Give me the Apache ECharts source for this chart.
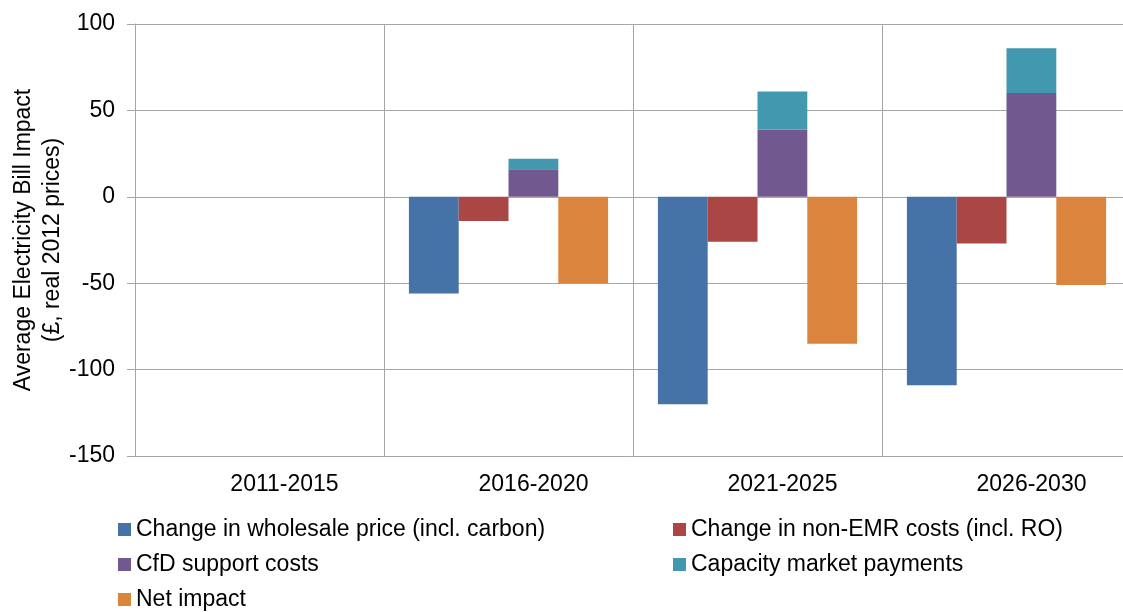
<!DOCTYPE html>
<html>
<head>
<meta charset="utf-8">
<script src="https://cdn.jsdelivr.net/npm/echarts@6/dist/echarts.min.js"></script>
<style>
html,body{margin:0;padding:0;background:#fff;}
#chart{width:1123px;height:612px;}
</style>
</head>
<body>
<div id="chart"></div>
<script>
const categories = ['2011-2015', '2016-2020', '2021-2025', '2026-2030'];
const wholesale = [null, -56, -120, -109];
const nonEMR = [null, -14, -26, -27];
const cfdSupport = [null, 16, 39, 60];
const capacity = [null, 6, 22, 26];
const netImpact = [null, -50, -85, -51];
const yTicks = { min: -150, max: 100, interval: 50 };

const names = {
  wholesale: 'Change in wholesale price (incl. carbon)',
  nonEMR: 'Change in non-EMR costs (incl. RO)',
  cfd: 'CfD support costs',
  cap: 'Capacity market payments',
  net: 'Net impact'
};
const colors = {
  wholesale: '#4572A7', nonEMR: '#AA4643', cfd: '#71588F', cap: '#4198AF', net: '#DB843D'
};
const font = 'Arial, "Liberation Sans", sans-serif';
const chart = echarts.init(document.getElementById('chart'), null, { renderer: 'canvas' });

function bar(key, data, stack) {
  const s = {
    name: names[key], type: 'bar', data: data,
    itemStyle: { color: colors[key] },
    barGap: '0%', barCategoryGap: '20%',
    emphasis: { disabled: true }
  };
  if (stack) s.stack = stack;
  return s;
}

const legendBase = {
  orient: 'vertical', itemWidth: 13, itemHeight: 13, itemGap: 12, icon: 'rect',
  height: 200, width: 500, padding: 0,
  textStyle: { fontFamily: font, fontSize: 23, color: '#000', lineHeight: 23 },
  selectedMode: false
};

chart.setOption({
  animation: false,
  backgroundColor: '#fff',
  grid: { left: 135, top: 24, width: 996, height: 432, containLabel: false, outerBoundsMode: 'none' },
  legend: [
    Object.assign({}, legendBase, { left: 118, top: 518, data: [names.wholesale, names.cfd, names.net] }),
    Object.assign({}, legendBase, { left: 673, top: 518, data: [names.nonEMR, names.cap] })
  ],
  xAxis: {
    type: 'category', data: categories,
    axisLine: { show: true, onZero: false, lineStyle: { color: '#a6a6a6', width: 1 } },
    axisTick: { show: false },
    splitLine: { show: true, lineStyle: { color: '#a6a6a6', width: 1 } },
    axisLabel: { fontFamily: font, fontSize: 23, color: '#000', margin: 17, padding: [0, 0, 0, 50] }
  },
  yAxis: {
    type: 'value', min: yTicks.min, max: yTicks.max, interval: yTicks.interval,
    name: 'Average Electricity Bill Impact\n(£, real 2012 prices)',
    nameLocation: 'middle', nameGap: 68, nameMoveOverlap: false,
    nameTextStyle: { fontFamily: font, fontSize: 23, color: '#000', lineHeight: 29, align: 'center' },
    axisLine: { show: true, lineStyle: { color: '#a6a6a6', width: 1 } },
    axisTick: { show: true, length: 8, lineStyle: { color: '#a6a6a6' } },
    splitLine: { show: true, lineStyle: { color: '#a6a6a6', width: 1 } },
    axisLabel: { fontFamily: font, fontSize: 23, color: '#000', margin: 20 }
  },
  series: [
    bar('wholesale', wholesale),
    bar('nonEMR', nonEMR),
    bar('cfd', cfdSupport, 'support'),
    bar('cap', capacity, 'support'),
    bar('net', netImpact)
  ]
});
</script>
</body>
</html>
